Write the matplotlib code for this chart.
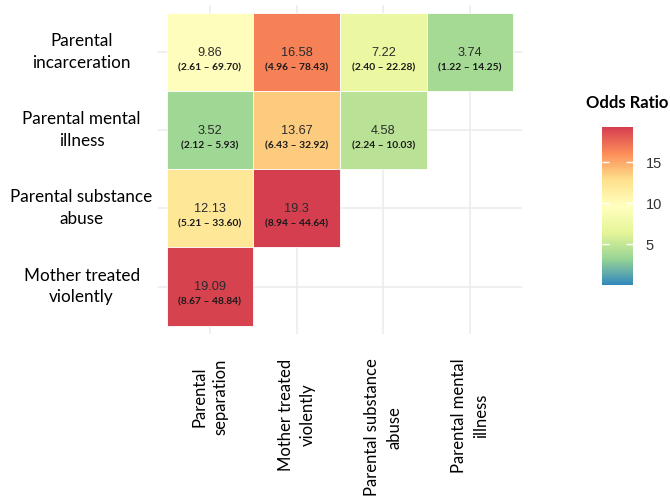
import matplotlib
matplotlib.use("Agg")
import matplotlib.pyplot as plt
import numpy as np
from matplotlib.colors import LinearSegmentedColormap, Normalize
from matplotlib.patches import Rectangle

# Exposure pairs (rows top to bottom, columns left to right)
row_labels = ["Parental\nincarceration", "Parental mental\nillness",
              "Parental substance\nabuse", "Mother treated\nviolently"]
col_labels = ["Parental\nseparation", "Mother treated\nviolently",
              "Parental substance\nabuse", "Parental mental\nillness"]

# Odds ratios and 95% confidence intervals, row by row
odds_ratio = [
    [9.86, 16.58, 7.22, 3.74],
    [3.52, 13.67, 4.58],
    [12.13, 19.3],
    [19.09],
]
ci_low = [
    [2.61, 4.96, 2.40, 1.22],
    [2.12, 6.43, 2.24],
    [5.21, 8.94],
    [8.67],
]
ci_high = [
    [69.70, 78.43, 22.28, 14.25],
    [5.93, 32.92, 10.03],
    [33.60, 44.64],
    [48.84],
]
or_labels = [
    ["9.86", "16.58", "7.22", "3.74"],
    ["3.52", "13.67", "4.58"],
    ["12.13", "19.3"],
    ["19.09"],
]
cbar_ticks = [5, 10, 15]

# Spectral (7-class brewer), low = blue, high = red
spectral7 = ["#3288bd", "#99d594", "#e6f598", "#ffffbf",
             "#fee08b", "#fc8d59", "#d53e4f"]
cmap = LinearSegmentedColormap.from_list("spectral_r", spectral7)
vmax = max(max(r) for r in odds_ratio)
norm = Normalize(vmin=0, vmax=vmax)

W, H = 670, 498
fig = plt.figure(figsize=(W / 100, H / 100), dpi=100)
ax = fig.add_axes([158 / W, 1 - 333.5 / H, 364 / W, (333.5 - 4.9) / H])

n_rows, n_cols = len(row_labels), len(col_labels)
ax.set_xlim(0.4, n_cols + 0.6)
ax.set_ylim(n_rows + 0.6, 0.4)

# light grid at category centres
for i in range(1, n_cols + 1):
    ax.axvline(i, color="#ebebeb", lw=1.1, zorder=0)
for j in range(1, n_rows + 1):
    ax.axhline(j, color="#ebebeb", lw=1.1, zorder=0)

for r, (vals, labs, lo, hi) in enumerate(zip(odds_ratio, or_labels, ci_low, ci_high)):
    y = r + 1
    for c, v in enumerate(vals):
        x = c + 1
        ax.add_patch(Rectangle((x - 0.5, y - 0.5), 1, 1,
                               facecolor=cmap(norm(v)), edgecolor="white",
                               lw=0.6, zorder=2))
        ax.text(x, y + 0.01, labs[c], ha="center", va="center", fontsize=9.2,
                family="Liberation Sans", color="#2b2b2b", zorder=3)
        ax.text(x, y + 0.2, f"({lo[c]:.2f} \u2013 {hi[c]:.2f})",
                ha="center", va="center", fontsize=7.4, fontweight="bold",
                family="Lato", color="#1a1a1a", zorder=3)

for s in ax.spines.values():
    s.set_visible(False)

ax.set_xticks(range(1, n_cols + 1))
ax.set_yticks(range(1, n_rows + 1))
ax.set_xticklabels(col_labels, rotation=90, ha="center", va="top",
                   multialignment="center", family="Lato", fontsize=12.0,
                   color="black", linespacing=1.45)
ax.set_yticklabels(row_labels, ha="center", va="center",
                   multialignment="center", family="Lato", fontsize=12.3,
                   color="black", linespacing=1.45)
ax.tick_params(axis="x", length=0, pad=18)
ax.tick_params(axis="y", length=0, pad=55)

# colour bar
cax = fig.add_axes([602 / W, 1 - 285 / H, 31 / W, 158 / H])
sm = plt.cm.ScalarMappable(norm=norm, cmap=cmap)
cb = fig.colorbar(sm, cax=cax, ticks=cbar_ticks)
cb.outline.set_visible(False)
cax.tick_params(which="major", direction="in", length=5, width=1,
                color="white", left=True, right=True, labelleft=False,
                labelright=True, labelsize=10.5, labelcolor="#333333", pad=9)
for t in cax.get_yticklabels():
    t.set_family("Liberation Sans")
cax.minorticks_off()

fig.text(586 / W, 1 - 103 / H, "Odds Ratio", ha="left", va="center",
         fontsize=12, fontweight="bold", family="Lato", color="black")

fig.savefig("out.png", dpi=100, facecolor="white")
